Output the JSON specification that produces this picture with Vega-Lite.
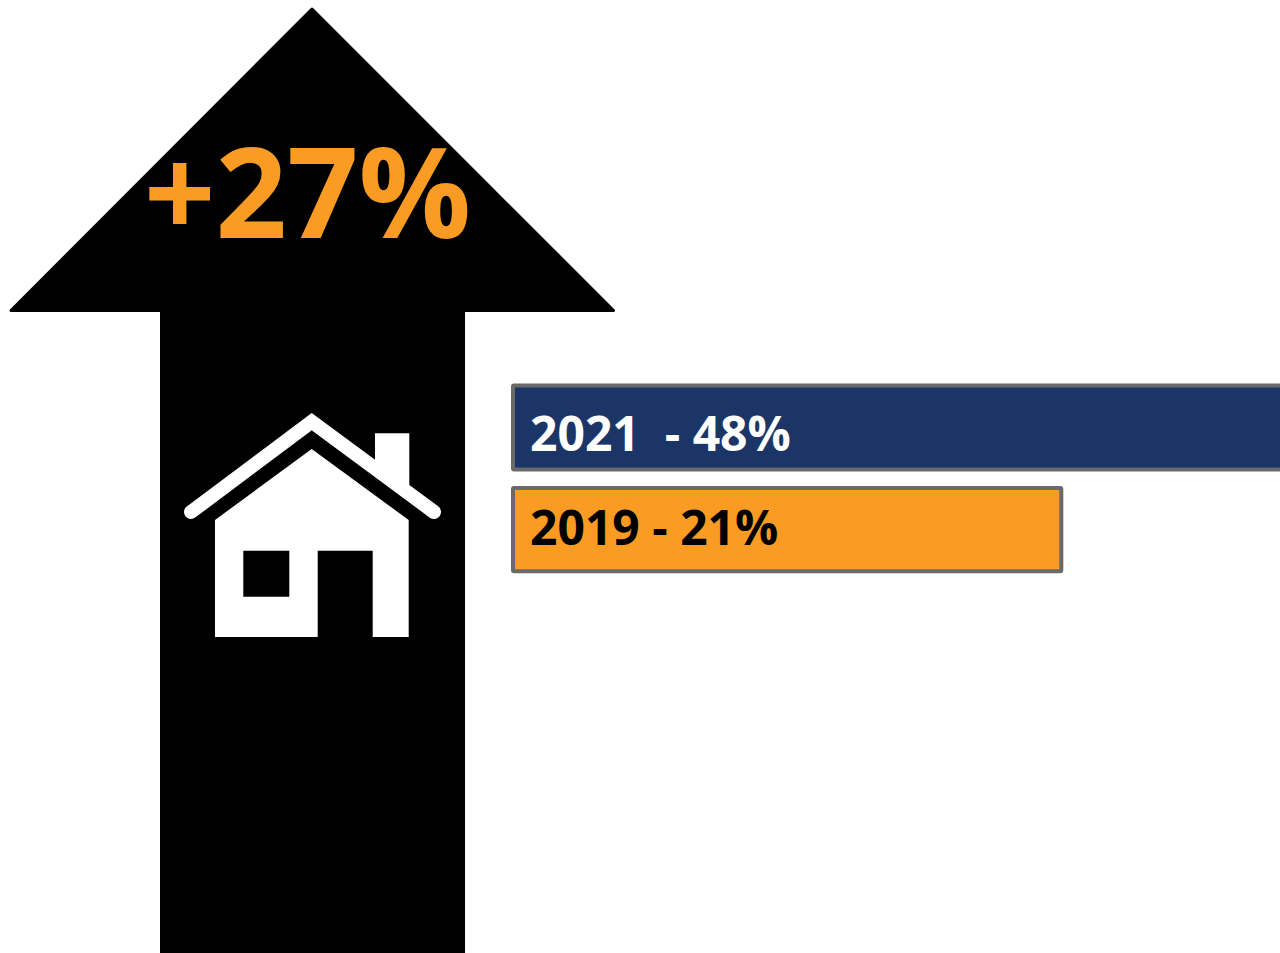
{
  "$schema": "https://vega.github.io/schema/vega-lite/v6.json",
  "width": 1280,
  "height": 953,
  "padding": 0,
  "autosize": {"type": "fit", "contains": "padding"},
  "background": "white",
  "view": {"stroke": null},
  "config": {"axis": {"domain": false, "grid": false, "ticks": false, "labels": false, "title": null}},
  "datasets": {
    "head": [{"x": 11, "y": 310.5, "y2": 310.5}, {"x": 312, "y": 9, "y2": 310.5}, {"x": 613.5, "y": 310.5, "y2": 310.5}],
    "shaft": [{"x": 160, "x2": 465, "y": 311, "y2": 953}],
    "headline": [{"x": 144, "y": 238, "label": "+27%"}],
    "roof": [{"x": 191, "y": 512}, {"x": 311.7, "y": 421.7}, {"x": 434, "y": 512}],
    "chimney": [{"x": 375, "y": 433.3, "y2": 468}, {"x": 409.3, "y": 433.3, "y2": 493}],
    "body": [{"x": 215, "y": 520, "y2": 637}, {"x": 311.7, "y": 449, "y2": 637}, {"x": 408.7, "y": 520, "y2": 637}],
    "openings": [{"part": "window", "x": 243.3, "x2": 289.3, "y": 550.7, "y2": 596.7}, {"part": "door", "x": 317.7, "x2": 372.7, "y": 550.7, "y2": 637.5}],
    "bars": [
      {"year": 2021, "start": 0, "share": 48, "top": 385.5, "bottom": 469.5, "label": "2021\u00a0\u00a0- 48%", "labelY": 451},
      {"year": 2019, "start": 0, "share": 21, "top": 488, "bottom": 571.3, "label": "2019 - 21%", "labelY": 545}
    ]
  },
  "resolve": {"scale": {"x": "independent"}, "axis": {"x": "independent"}},
  "layer": [
    {
      "data": {"name": "head"},
      "mark": {"type": "area", "orient": "vertical", "color": "#000000", "stroke": "#000000", "strokeWidth": 3, "strokeJoin": "round"},
      "encoding": {
        "x": {"field": "x", "type": "quantitative", "scale": {"domain": [0, 1280], "nice": false, "zero": false}, "axis": null},
        "y": {"field": "y", "type": "quantitative", "scale": {"domain": [0, 953], "reverse": true, "nice": false, "zero": false}, "axis": null},
        "y2": {"field": "y2"}
      }
    },
    {
      "data": {"name": "shaft"},
      "mark": {"type": "rect", "color": "#000000"},
      "encoding": {
        "x": {"field": "x", "type": "quantitative", "scale": {"domain": [0, 1280], "nice": false, "zero": false}, "axis": null},
        "x2": {"field": "x2"},
        "y": {"field": "y", "type": "quantitative", "axis": null},
        "y2": {"field": "y2"}
      }
    },
    {
      "data": {"name": "headline"},
      "mark": {"type": "text", "font": "Open Sans", "fontWeight": "bold", "fontSize": 125, "color": "#fa9c23", "align": "left", "baseline": "alphabetic"},
      "encoding": {
        "x": {"field": "x", "type": "quantitative", "scale": {"domain": [0, 1280], "nice": false, "zero": false}, "axis": null},
        "y": {"field": "y", "type": "quantitative", "axis": null},
        "text": {"field": "label"}
      }
    },
    {
      "data": {"name": "chimney"},
      "mark": {"type": "area", "orient": "vertical", "color": "#ffffff"},
      "encoding": {
        "x": {"field": "x", "type": "quantitative", "scale": {"domain": [0, 1280], "nice": false, "zero": false}, "axis": null},
        "y": {"field": "y", "type": "quantitative", "axis": null},
        "y2": {"field": "y2"}
      }
    },
    {
      "data": {"name": "roof"},
      "mark": {"type": "line", "color": "#ffffff", "strokeWidth": 14, "strokeCap": "round", "strokeJoin": "miter"},
      "encoding": {
        "x": {"field": "x", "type": "quantitative", "scale": {"domain": [0, 1280], "nice": false, "zero": false}, "axis": null},
        "y": {"field": "y", "type": "quantitative", "axis": null}
      }
    },
    {
      "data": {"name": "body"},
      "mark": {"type": "area", "orient": "vertical", "color": "#ffffff"},
      "encoding": {
        "x": {"field": "x", "type": "quantitative", "scale": {"domain": [0, 1280], "nice": false, "zero": false}, "axis": null},
        "y": {"field": "y", "type": "quantitative", "axis": null},
        "y2": {"field": "y2"}
      }
    },
    {
      "data": {"name": "openings"},
      "mark": {"type": "rect", "color": "#000000"},
      "encoding": {
        "x": {"field": "x", "type": "quantitative", "scale": {"domain": [0, 1280], "nice": false, "zero": false}, "axis": null},
        "x2": {"field": "x2"},
        "y": {"field": "y", "type": "quantitative", "axis": null},
        "y2": {"field": "y2"}
      }
    },
    {
      "data": {"name": "bars"},
      "mark": {"type": "rect", "clip": true, "stroke": "#6a6a6a", "strokeWidth": 4, "cornerRadius": 1},
      "encoding": {
        "x": {"field": "start", "type": "quantitative", "scale": {"domain": [-19.648, 29.376], "nice": false, "zero": false}, "axis": null},
        "x2": {"field": "share"},
        "y": {"field": "top", "type": "quantitative", "axis": null},
        "y2": {"field": "bottom"},
        "fill": {"field": "year", "type": "nominal", "scale": {"domain": [2021, 2019], "range": ["#1b3567", "#fa9c23"]}, "legend": null}
      }
    },
    {
      "data": {"name": "bars"},
      "mark": {"type": "text", "font": "Open Sans", "fontWeight": "bold", "fontSize": 48, "align": "left", "baseline": "alphabetic", "dx": 17},
      "encoding": {
        "x": {"field": "start", "type": "quantitative", "scale": {"domain": [-19.648, 29.376], "nice": false, "zero": false}, "axis": null},
        "y": {"field": "labelY", "type": "quantitative", "axis": null},
        "text": {"field": "label"},
        "color": {"field": "year", "type": "nominal", "scale": {"domain": [2021, 2019], "range": ["#ffffff", "#000000"]}, "legend": null}
      }
    }
  ]
}
